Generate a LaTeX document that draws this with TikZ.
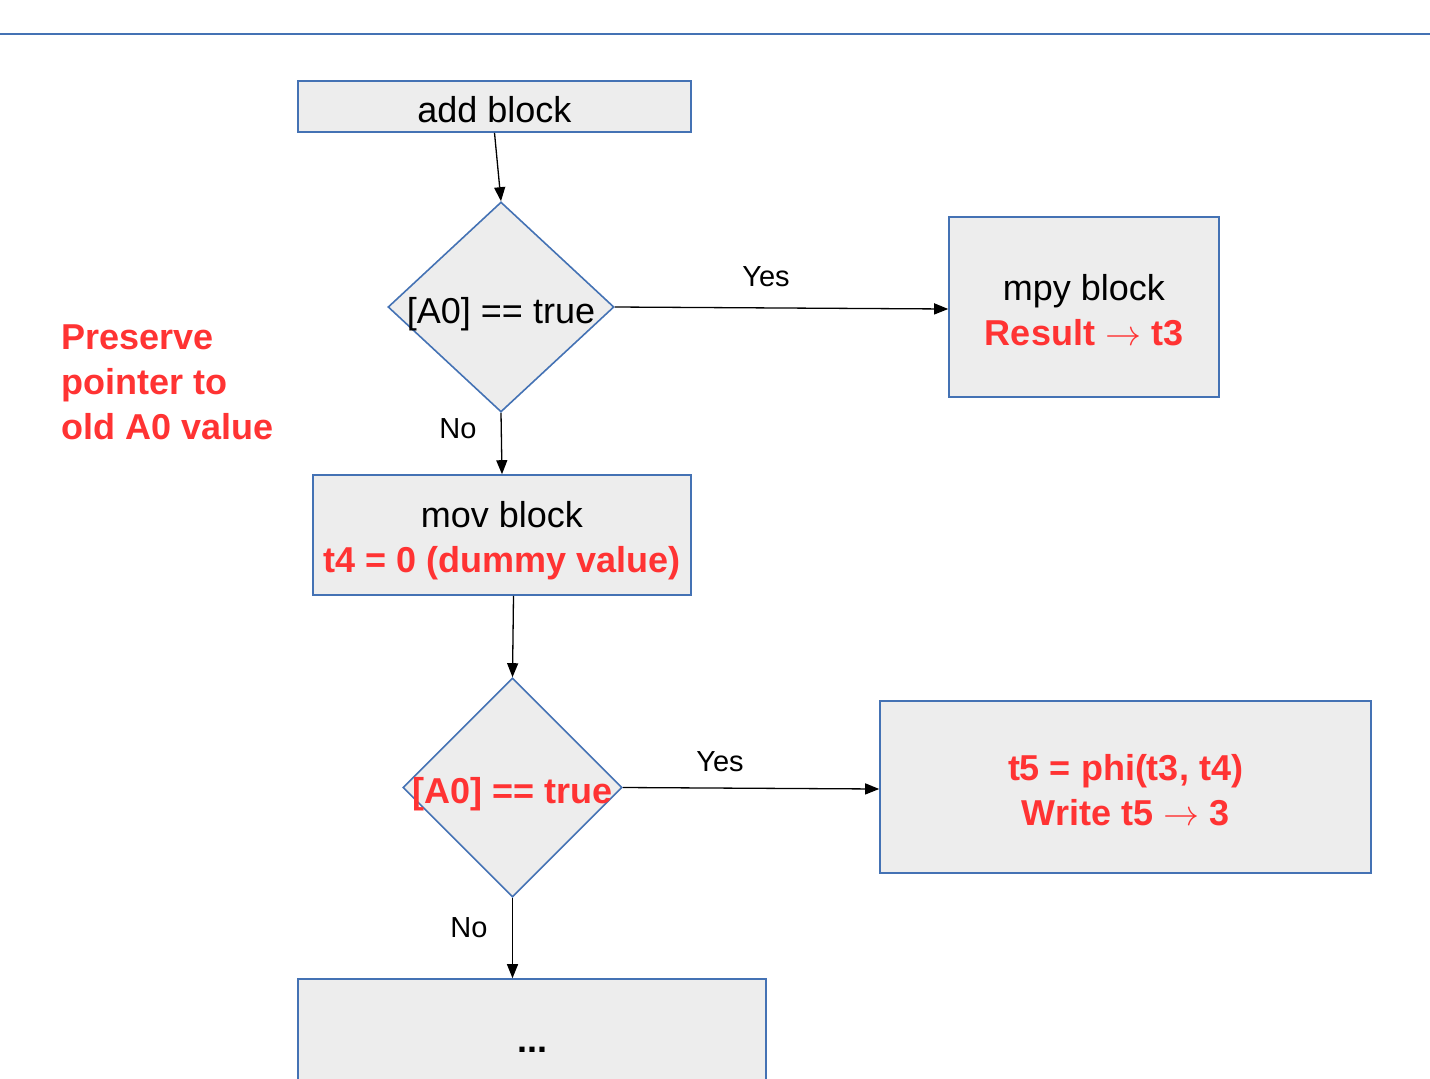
\documentclass[tikz,border=0pt]{standalone}
\usepackage{fix-cm}
\usepackage{fontspec}
\setmainfont{Liberation Sans}
\usetikzlibrary{shapes.geometric,arrows.meta}
\definecolor{boxblue}{RGB}{68,114,180}
\definecolor{boxfill}{RGB}{237,237,237}
\definecolor{hired}{RGB}{255,51,51}
\newcommand{\hl}[1]{{\color{hired}\bfseries #1}}
\newcommand{\rarr}{ $\rightarrow$ }
\newcommand{\tx}[2]{\raisebox{-#1pt}[\height][\depth]{\begin{tabular}{@{}c@{}}#2\end{tabular}}}
\begin{document}
\begin{tikzpicture}[x=1pt,y=-1pt,
  blk/.style={rectangle,draw=boxblue,fill=boxfill,line width=1.6pt,inner sep=0pt,align=center,font=\fontsize{36}{45}\selectfont},
  dec/.style={diamond,draw=boxblue,fill=boxfill,line width=1.6pt,inner sep=0pt,font=\fontsize{36}{45}\selectfont},
  arr/.style={-{Triangle[length=14pt,width=11pt]},line width=1.3pt,black},
  lbl/.style={inner sep=0pt,font=\fontsize{29}{35}\selectfont}]
\useasboundingbox (0,0) rectangle (1430,1079);
\clip (0,0) rectangle (1430,1079);
% top rule
\draw[boxblue,line width=2pt] (0,34) -- (1430,34);

% nodes
\node[blk,minimum width=393pt,minimum height=51pt] (add) at (494.5,106.5) {\tx{7}{add block}};
\node[dec,minimum width=226pt,minimum height=210pt] (d1) at (501,307) {\makebox[0pt]{\tx{7}{[A0] == true}}};
\node[blk,minimum width=270pt,minimum height=180pt] (mpy) at (1084,307) {\tx{7}{mpy block\\\hl{Result\rarr t3}}};
\node[blk,minimum width=378pt,minimum height=120pt] (mov) at (502,535) {\tx{6}{mov block\\\hl{t4 = 0 (dummy value)}}};
\node[dec,minimum width=219pt,minimum height=219pt] (d2) at (512.5,787.5) {\makebox[0pt]{\tx{7}{\hl{[A0] == true}}}};
\node[blk,minimum width=491pt,minimum height=172pt] (phi) at (1125.5,787) {\tx{7}{\hl{t5 = phi(t3, t4)}\\\hl{Write t5\rarr 3}}};
\node[blk,minimum width=468pt,minimum height=141pt] (more) at (532,1049.5) {\textbf{...}};

\node[inner sep=0pt,anchor=west,align=left,text=hired,font=\fontsize{36}{45}\selectfont\bfseries] (note) at (61,382) {Preserve\\pointer to\\old A0 value};

% connectors
\draw[arr] (add.south) -- (d1.north);
\draw[arr] (d1.east) -- ([yshift=-2pt]mpy.west);
\draw[arr] (d1.south) -- (mov.north);
\draw[arr] ([xshift=1pt]d2.north |- mov.south) -- (d2.north);
\draw[arr] (d2.east) -- ([yshift=-2pt]phi.west);
\draw[arr] (d2.south) -- (d2.south |- more.north);

% labels
\node[lbl] (yes1) at (766,277) {Yes};
\node[lbl] (no1) at (458,429) {No};
\node[lbl] (yes2) at (720,762) {Yes};
\node[lbl] (no2) at (469,928) {No};
\end{tikzpicture}
\end{document}
